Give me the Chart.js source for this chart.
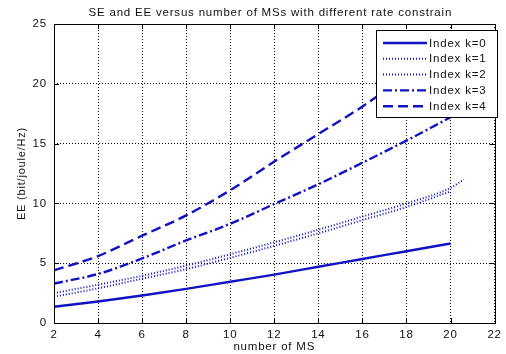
<!DOCTYPE html>
<html>
<head>
<meta charset="utf-8">
<script src="https://cdn.jsdelivr.net/npm/chart.js@4.4.1/dist/chart.umd.min.js"></script>
<style>
  html, body { margin: 0; padding: 0; background: #fff; }
  #wrap { width: 506px; height: 354px; }
</style>
</head>
<body>
<div id="wrap"><canvas id="eeChart" width="506" height="354"></canvas></div>
<script>
// number of MSs on the x axis
const msCounts = [2, 4, 6, 8, 10, 12, 14, 16, 18, 20];
const msCountsLong = [2, 4, 6, 8, 10, 12, 14, 16, 18, 20, 20.6];

// EE (bit/joule/Hz) for each rate index
const eeK0 = [1.36, 1.8, 2.3, 2.85, 3.45, 4.05, 4.7, 5.35, 6.0, 6.65];
const eeK1 = [2.5, 3.2, 3.95, 4.8, 5.75, 6.75, 7.8, 8.9, 10.0, 11.3, 12.0];
const eeK2 = [2.2, 2.9, 3.7, 4.5, 5.45, 6.45, 7.5, 8.6, 9.7, 11.0];
const eeK3 = [3.3, 4.1, 5.4, 6.9, 8.3, 9.95, 11.6, 13.4, 15.25, 17.2];
const eeK4 = [4.4, 5.6, 7.3, 9.0, 11.1, 13.5, 15.8, 18.1, 20.7, 23.3];

const seriesLabels = ['Index k=0', 'Index k=1', 'Index k=2', 'Index k=3', 'Index k=4'];
const xTicks = [2, 4, 6, 8, 10, 12, 14, 16, 18, 20, 22];
const yTicks = [0, 5, 10, 15, 20, 25];
const chartTitle = 'SE and EE versus number of MSs with different rate constrain';

const blue = '#1212c4';
const fontFam = '"Liberation Sans", Arial, Helvetica, sans-serif';

function pts(xs, ys) {
  return ys.map((y, i) => ({ x: xs[i], y: y }));
}

// matlab style box, inward ticks, title and legend
const matlabBox = {
  id: 'matlabBox',
  beforeDraw(chart) {
    // matlab text looks a bit wider than arial
    chart.ctx.letterSpacing = '0.8px';
  },
  afterDatasetsDraw(chart) {
    const { ctx, chartArea: a, scales } = chart;
    ctx.save();
    ctx.strokeStyle = '#000';
    ctx.lineWidth = 1;
    ctx.strokeRect(Math.round(a.left) + 0.5, Math.round(a.top) + 0.5,
      Math.round(a.right - a.left), Math.round(a.bottom - a.top));
    ctx.beginPath();
    xTicks.forEach(v => {
      const px = Math.round(scales.x.getPixelForValue(v)) + 0.5;
      ctx.moveTo(px, a.bottom); ctx.lineTo(px, a.bottom - 5);
      ctx.moveTo(px, a.top); ctx.lineTo(px, a.top + 5);
    });
    yTicks.forEach(v => {
      const py = Math.round(scales.y.getPixelForValue(v)) + 0.5;
      ctx.moveTo(a.left, py); ctx.lineTo(a.left + 5, py);
      ctx.moveTo(a.right, py); ctx.lineTo(a.right - 5, py);
    });
    ctx.stroke();

    // title over the plot box
    ctx.fillStyle = '#111';
    ctx.font = '11.5px ' + fontFam;
    ctx.textAlign = 'center';
    ctx.textBaseline = 'middle';
    ctx.fillText(chartTitle, (a.left + a.right) / 2 - 4, 13);

    // legend box
    const bx = 376.5, by = 30.5, bw = 121, bh = 87;
    ctx.fillStyle = '#fff';
    ctx.fillRect(bx, by, bw, bh);
    ctx.strokeRect(bx, by, bw, bh);
    ctx.textAlign = 'left';
    chart.data.datasets.forEach((ds, i) => {
      const y = 43 + i * 15.8;
      ctx.strokeStyle = ds.borderColor;
      ctx.lineWidth = ds.borderWidth;
      ctx.setLineDash(ds.borderDash || []);
      ctx.beginPath();
      ctx.moveTo(383, y); ctx.lineTo(427, y);
      ctx.stroke();
      ctx.setLineDash([]);
      ctx.fillStyle = '#111';
      ctx.fillText(ds.label, 429, y + 0.5);
    });
    ctx.restore();
  }
};

new Chart(document.getElementById('eeChart'), {
  type: 'line',
  data: {
    datasets: [
      { label: seriesLabels[0], data: pts(msCounts, eeK0), borderColor: blue, borderWidth: 2.4, borderDash: [] },
      { label: seriesLabels[1], data: pts(msCountsLong, eeK1), borderColor: blue, borderWidth: 2, borderDash: [1, 2] },
      { label: seriesLabels[2], data: pts(msCounts, eeK2), borderColor: blue, borderWidth: 2, borderDash: [1, 2] },
      { label: seriesLabels[3], data: pts(msCounts, eeK3), borderColor: blue, borderWidth: 2.4, borderDash: [9, 3, 2, 3] },
      { label: seriesLabels[4], data: pts(msCounts, eeK4), borderColor: blue, borderWidth: 2.4, borderDash: [10, 5] }
    ]
  },
  options: {
    responsive: false,
    animation: false,
    devicePixelRatio: 1,
    layout: { padding: { left: 0, right: 6, top: 24, bottom: 0 } },
    elements: {
      point: { radius: 0 },
      line: { tension: 0.3, fill: false, cubicInterpolationMode: 'monotone' }
    },
    plugins: {
      legend: { display: false },
      tooltip: { enabled: false },
      title: { display: false }
    },
    scales: {
      x: {
        type: 'linear',
        min: 2, max: 22,
        afterBuildTicks: s => { s.ticks = xTicks.map(v => ({ value: v })); },
        afterFit: s => { s.height = 31; },
        grid: { color: '#000', lineWidth: 1, drawTicks: false },
        border: { display: false, dash: [1, 2] },
        ticks: { color: '#111', padding: 5, font: { family: fontFam, size: 11.5 } },
        title: {
          display: true, text: 'number of MS', color: '#111',
          font: { family: fontFam, size: 11.5 }, padding: { top: 0, bottom: 0 }
        }
      },
      y: {
        type: 'linear',
        min: 0, max: 25,
        afterBuildTicks: s => { s.ticks = yTicks.map(v => ({ value: v })); },
        afterFit: s => { s.width = 54; },
        grid: { color: '#000', lineWidth: 1, drawTicks: false },
        border: { display: false, dash: [1, 2] },
        ticks: { color: '#111', padding: 7, font: { family: fontFam, size: 11.5 } },
        title: {
          display: true, text: 'EE (bit/joule/Hz)', color: '#111',
          font: { family: fontFam, size: 11 }, padding: { top: 15, bottom: 0 }
        }
      }
    }
  },
  plugins: [matlabBox]
});
</script>
</body>
</html>
